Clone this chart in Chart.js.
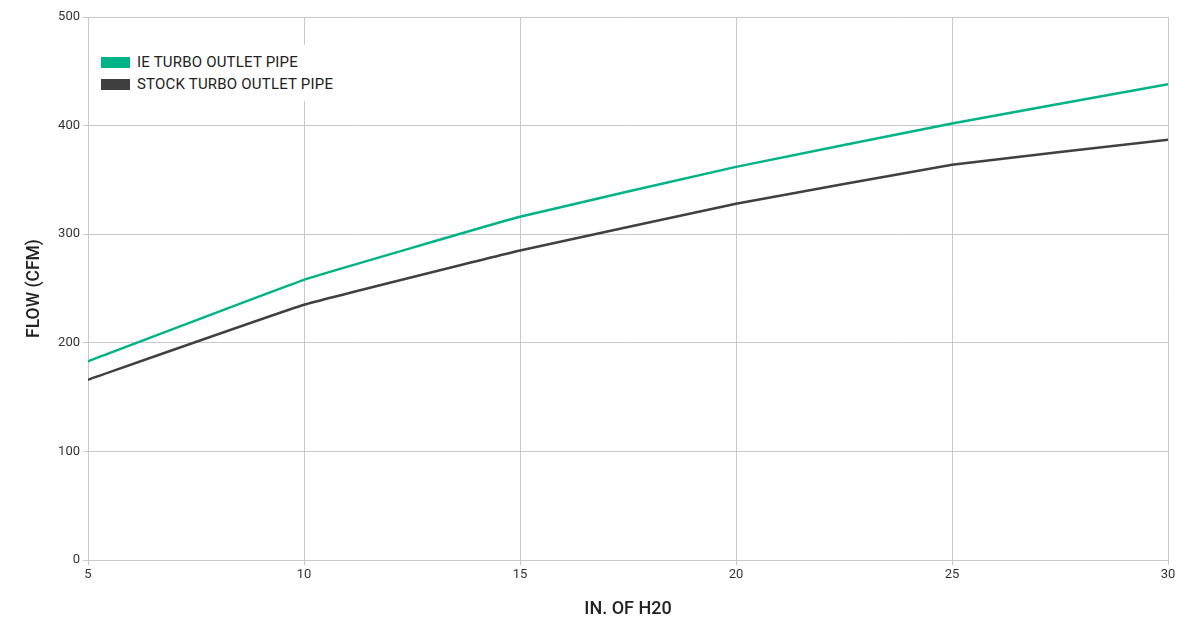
<!DOCTYPE html>
<html>
<head>
<meta charset="utf-8">
<script src="https://cdn.jsdelivr.net/npm/chart.js@4/dist/chart.umd.min.js"></script>
<style>
  html, body { margin: 0; padding: 0; background: #fff; }
  #wrap { position: relative; width: 1200px; height: 624px; }
  #legend {
    position: absolute; left: 95px; top: 45px; background: #fff;
    padding: 6px 6px 6px 6px; font-family: Roboto, sans-serif; font-size: 15px; color: #222;
    letter-spacing: 0.2px;
  }
  #legend div { display: flex; align-items: center; height: 22px; }
  #legend span.sw { display: inline-block; width: 29px; height: 11px; margin-right: 7px; }
</style>
</head>
<body>
<div id="wrap">
  <canvas id="myChart" width="1200" height="624"></canvas>
  <div id="legend"></div>
</div>
<script>
var pressure = [5, 10, 15, 20, 25, 30];
var ieFlow = [183, 258, 316, 362, 402, 438];
var stockFlow = [166, 235, 285, 328, 364, 387];
var yTicks = [0, 100, 200, 300, 400, 500];

var ctx = document.getElementById("myChart");
var gridColor = "#c9c9c9";

function toPoints(xs, ys) {
    var pts = [];
    for (var i = 0; i < xs.length; i++) {
        pts.push({x: xs[i], y: ys[i]});
    }
    return pts;
}

var myChart = new Chart(ctx, {
    type: 'line',
    data: {
        datasets: [
            {
                label: "IE TURBO OUTLET PIPE",
                borderColor: "#00b386",
                backgroundColor: "#00b386",
                borderWidth: 2.5,
                pointRadius: 0,
                tension: 0.08,
                data: toPoints(pressure, ieFlow)
            },
            {
                label: "STOCK TURBO OUTLET PIPE",
                borderColor: "#404040",
                backgroundColor: "#404040",
                borderWidth: 2.5,
                pointRadius: 0,
                tension: 0.08,
                data: toPoints(pressure, stockFlow)
            }
        ]
    },
    options: {
        responsive: false,
        animation: false,
        layout: { padding: { top: 17, right: 32, left: 0, bottom: 0 } },
        plugins: {
            legend: { display: false },
            tooltip: { enabled: false }
        },
        scales: {
            x: {
                type: 'linear',
                min: 5, max: 30,
                afterFit: function (scale) { scale.height = 64; },
                afterBuildTicks: function (scale) {
                    scale.ticks = pressure.map(function (v) { return {value: v}; });
                },
                grid: { color: gridColor, lineWidth: 1, tickLength: 5 },
                border: { color: gridColor },
                ticks: { color: "#333", font: { family: "Roboto", size: 13 }, padding: 2, maxRotation: 0 },
                title: {
                    display: true, text: "IN. OF H20", color: "#222",
                    font: { family: "Roboto", size: 18, weight: '500' },
                    padding: { top: 12 }
                }
            },
            y: {
                min: 0, max: 500,
                afterFit: function (scale) { scale.width = 88; },
                afterBuildTicks: function (scale) {
                    scale.ticks = yTicks.map(function (v) { return {value: v}; });
                },
                grid: { color: gridColor, lineWidth: 1, tickLength: 5 },
                border: { color: gridColor },
                ticks: { color: "#333", font: { family: "Roboto", size: 13 }, padding: 3 },
                title: {
                    display: true, text: "FLOW (CFM)", color: "#222",
                    font: { family: "Roboto", size: 17.5, weight: '500' },
                    padding: { top: 24, bottom: 0 }
                }
            }
        }
    }
});

// legend inside the plot, built from the datasets
var legend = document.getElementById("legend");
myChart.data.datasets.forEach(function (ds) {
    var row = document.createElement("div");
    var sw = document.createElement("span");
    sw.className = "sw";
    sw.style.background = ds.borderColor;
    row.appendChild(sw);
    row.appendChild(document.createTextNode(ds.label));
    legend.appendChild(row);
});
</script>
</body>
</html>
